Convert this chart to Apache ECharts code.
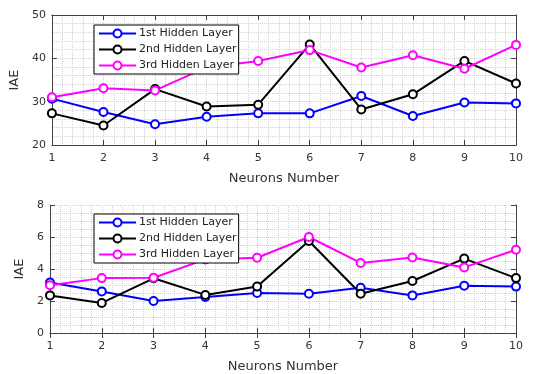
<!DOCTYPE html>
<html>
<head>
<meta charset="utf-8">
<script src="https://cdn.jsdelivr.net/npm/echarts@6/dist/echarts.min.js"></script>
<style>
  html, body { margin: 0; padding: 0; background: #fff; }
  #chart { width: 542px; height: 374px; }
</style>
</head>
<body>
<div id="chart"></div>
<script>
// neurons on x axis
var neurons = [1, 2, 3, 4, 5, 6, 7, 8, 9, 10];
var layerNames = ["1st Hidden Layer", "2nd Hidden Layer", "3rd Hidden Layer"];

// upper plot
var topLayer1 = [30.7, 27.6, 24.8, 26.5, 27.3, 27.3, 31.3, 26.7, 29.8, 29.6];
var topLayer2 = [27.3, 24.5, 32.9, 28.9, 29.3, 43.2, 28.2, 31.7, 39.4, 34.2];
var topLayer3 = [31.0, 33.1, 32.6, 37.9, 39.4, 41.9, 37.9, 40.7, 37.6, 43.1];

// lower plot
var botLayer1 = [3.15, 2.6, 2.0, 2.25, 2.5, 2.45, 2.83, 2.35, 2.95, 2.9];
var botLayer2 = [2.35, 1.88, 3.42, 2.38, 2.9, 5.75, 2.45, 3.25, 4.65, 3.43];
var botLayer3 = [2.98, 3.43, 3.45, 4.6, 4.7, 6.0, 4.38, 4.72, 4.1, 5.2];

var colors = ["#0000ff", "#000000", "#ff00ff"];
var axisColor = "#404040";
var gridColor = "#d2d2d2";

var myChart = echarts.init(document.getElementById("chart"));

function pairs(vals) {
    return neurons.map(function (n, i) { return [n, vals[i]]; });
}

function mkSeries(name, vals, idx, k) {
    return {
        name: name,
        type: "line",
        xAxisIndex: idx * 2,
        yAxisIndex: idx * 2,
        data: pairs(vals),
        symbol: "emptyCircle",
        symbolSize: 8,
        color: colors[k],
        lineStyle: { width: 2, color: colors[k] },
        itemStyle: { borderWidth: 1.5, borderColor: colors[k] },
        emphasis: { disabled: true },
        animation: false
    };
}

function xAxes(gi) {
    return [{
        type: "value", gridIndex: gi, min: 1, max: 10, interval: 1,
        name: "Neurons Number", nameLocation: "middle", nameGap: 27,
        nameTextStyle: { fontFamily: "DejaVu Sans", fontSize: 13, color: "#333" },
        axisLine: { show: true, lineStyle: { color: axisColor } },
        axisTick: { show: true, inside: true, length: 5, lineStyle: { color: axisColor } },
        axisLabel: { fontFamily: "DejaVu Sans", fontSize: 11, color: "#333", margin: 8 },
        splitLine: { show: true, lineStyle: { color: gridColor, type: "dotted" } },
        minorTick: { show: false, splitNumber: 5 },
        minorSplitLine: { show: true, lineStyle: { color: gridColor, type: "dotted" } }
    }, {
        type: "value", gridIndex: gi, position: "top", min: 1, max: 10, interval: 1,
        axisLine: { show: true, lineStyle: { color: axisColor } },
        axisTick: { show: true, inside: true, length: 5, lineStyle: { color: axisColor } },
        axisLabel: { show: false },
        splitLine: { show: false }
    }];
}

function yAxes(gi, min, max, step, minorSplit) {
    return [{
        type: "value", gridIndex: gi, min: min, max: max, interval: step,
        name: "IAE", nameLocation: "middle", nameGap: 24, nameRotate: 90,
        nameTextStyle: { fontFamily: "DejaVu Sans", fontSize: 13, color: "#333" },
        axisLine: { show: true, lineStyle: { color: axisColor } },
        axisTick: { show: true, inside: true, length: 5, lineStyle: { color: axisColor } },
        axisLabel: { fontFamily: "DejaVu Sans", fontSize: 11, color: "#333", margin: 6 },
        splitLine: { show: true, lineStyle: { color: gridColor, type: "dotted" } },
        minorTick: { show: false, splitNumber: minorSplit },
        minorSplitLine: { show: true, lineStyle: { color: gridColor, type: "dotted" } }
    }, {
        type: "value", gridIndex: gi, position: "right", min: min, max: max, interval: step,
        axisLine: { show: true, lineStyle: { color: axisColor } },
        axisTick: { show: true, inside: true, length: 5, lineStyle: { color: axisColor } },
        axisLabel: { show: false },
        splitLine: { show: false }
    }];
}

function mkLegend(top) {
    return {
        orient: "vertical",
        left: 94,
        top: top,
        data: layerNames,
        itemWidth: 37,
        itemHeight: 10,
        itemGap: 5,
        padding: [3, 2, 3, 4],
        backgroundColor: "#fff",
        borderColor: "#000",
        borderWidth: 1,
        selectedMode: false,
        textStyle: { fontFamily: "DejaVu Sans", fontSize: 11, color: "#222", padding: [0, 0, 0, -2] }
    };
}

var option = {
    backgroundColor: "#fff",
    animation: false,
    grid: [
        { left: 50, width: 466, top: 15, height: 130 },
        { left: 50, width: 466, top: 205, height: 130 }
    ],
    xAxis: xAxes(0).concat(xAxes(1)),
    yAxis: yAxes(0, 20, 50, 10, 5).concat(yAxes(1, 0, 8, 2, 4)),
    legend: [mkLegend(25), mkLegend(214)],
    series: [
        mkSeries(layerNames[0], topLayer1, 0, 0),
        mkSeries(layerNames[1], topLayer2, 0, 1),
        mkSeries(layerNames[2], topLayer3, 0, 2),
        mkSeries(layerNames[0], botLayer1, 1, 0),
        mkSeries(layerNames[1], botLayer2, 1, 1),
        mkSeries(layerNames[2], botLayer3, 1, 2)
    ]
};
myChart.setOption(option);
</script>
</body>
</html>
